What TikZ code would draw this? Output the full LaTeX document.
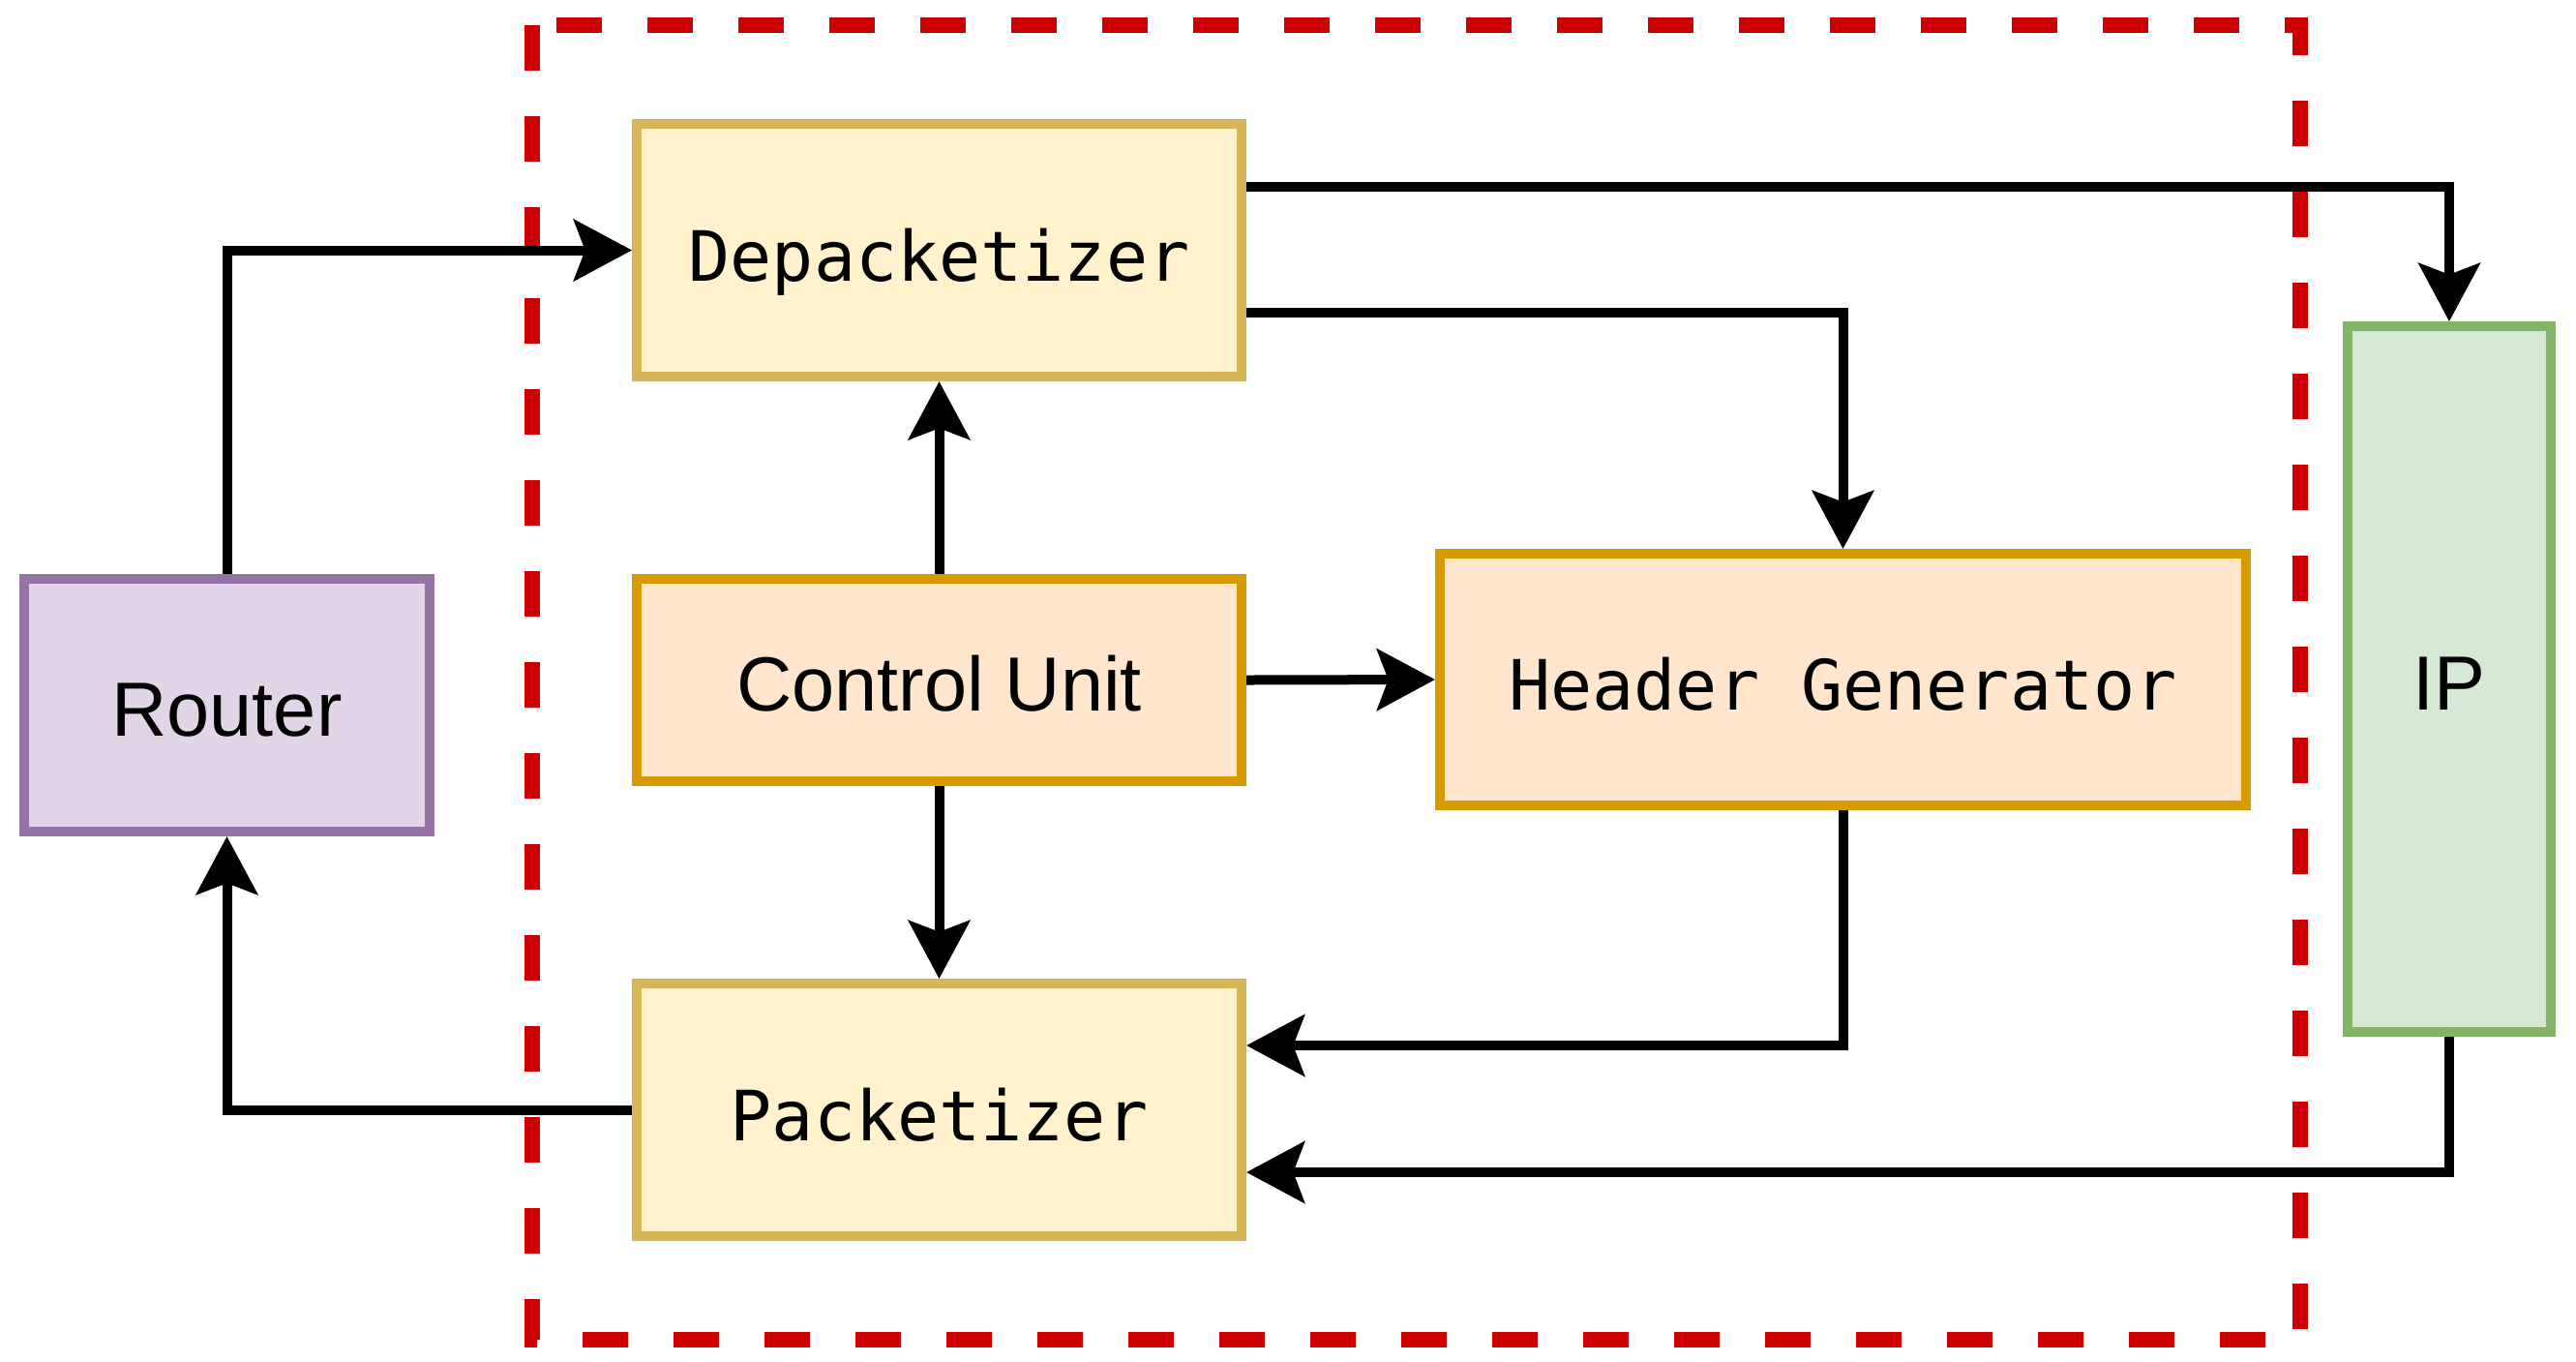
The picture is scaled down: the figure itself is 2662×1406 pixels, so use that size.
\documentclass[tikz,border=0pt]{standalone}
\usepackage{fontspec}
\setmainfont{Liberation Sans}
\newfontfamily\monofnt{DejaVu Sans Mono}
\usetikzlibrary{arrows.meta}
\definecolor{yelF}{HTML}{FFF2CC}\definecolor{yelD}{HTML}{D6B656}
\definecolor{orgF}{HTML}{FFE6CC}\definecolor{orgD}{HTML}{D79B00}
\definecolor{purF}{HTML}{E1D5E7}\definecolor{purD}{HTML}{9673A6}
\definecolor{grnF}{HTML}{D5E8D4}\definecolor{grnD}{HTML}{82B366}
\definecolor{redD}{HTML}{CC0000}
\tikzset{
  blk/.style={draw, line width=3pt, inner sep=0pt, anchor=center},
  yelbox/.style={blk, fill=yelF, draw=yelD},
  orgbox/.style={blk, fill=orgF, draw=orgD},
  purbox/.style={blk, fill=purF, draw=purD},
  grnbox/.style={blk, fill=grnF, draw=grnD},
  monotxt/.style={font=\monofnt\fontsize{21.5pt}{26pt}\selectfont, text height=18.9pt, text depth=0pt},
  sanstxt/.style={font=\fontsize{23.8pt}{28pt}\selectfont, text height=19.2pt, text depth=0pt},
  conn/.style={line width=3pt, -{Stealth[length=18pt, width=19pt, inset=3.5pt]}},
  grpbox/.style={draw=redD, line width=4.8pt, dash pattern=on 14.1pt off 14.1pt}
}
\begin{document}
\begin{tikzpicture}[x=0.3pt, y=-0.3pt]
\useasboundingbox (0,0) rectangle (2662,1406);
\draw[grpbox] (550,26) rectangle (2377,1384);

\node[yelbox, monotxt, minimum width=625*0.3pt, minimum height=261*0.3pt] (dep) at (970.5,258.5) {Depacketizer};
\node[orgbox, sanstxt, minimum width=625*0.3pt, minimum height=209*0.3pt] (cu) at (970.5,702.5) {Control Unit};
\node[yelbox, monotxt, minimum width=625*0.3pt, minimum height=261*0.3pt] (pk) at (970.5,1146.5) {Packetizer};
\node[orgbox, monotxt, minimum width=833*0.3pt, minimum height=260*0.3pt] (hg) at (1904.5,702) {Header Generator};
\node[purbox, sanstxt, minimum width=419*0.3pt, minimum height=261*0.3pt] (rt) at (234.5,728.5) {Router};
\node[grnbox, sanstxt, minimum width=210*0.3pt, minimum height=729*0.3pt] (ip) at (2531,701.5) {IP};

\draw[conn] (rt.north) |- (dep.west);
\draw[conn] (cu.north) -- (dep.south);
\draw[conn] (cu.south) -- (pk.north);
\draw[conn] (cu.east) -- (hg.west);
\draw[conn] ([yshift=65.5*0.3pt]dep.east) -| (ip.north);
\draw[conn] ([yshift=-64.5*0.3pt]dep.east) -| (hg.north);
\draw[conn] (hg.south) |- ([yshift=66.5*0.3pt]pk.east);
\draw[conn] (ip.south) |- ([yshift=-64.5*0.3pt]pk.east);
\draw[conn] (pk.west) -| (rt.south);
\end{tikzpicture}
\end{document}
